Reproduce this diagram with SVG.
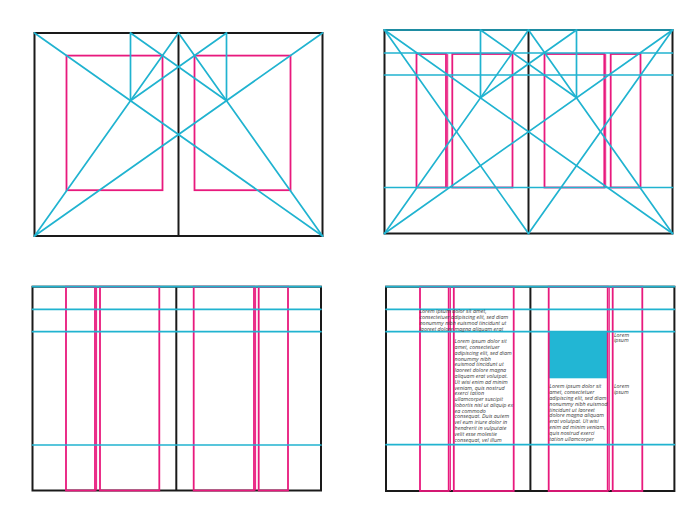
<svg xmlns="http://www.w3.org/2000/svg" width="700" height="524" viewBox="0 0 700 524">
<style>
.bk{fill:none;stroke:#1a1a1a;stroke-width:2}
.cy{fill:none;stroke:#20b3d0;stroke-width:1.7;stroke-linecap:round}
.mg{fill:none;stroke:#e8197d;stroke-width:1.8}
.mt{fill:none;stroke:#e8197d;stroke-width:1}
.t{font-family:"Open Sans","Liberation Sans",sans-serif;font-style:italic;font-size:5.4px;fill:#3a3a3a}
</style>
<rect width="700" height="524" fill="#ffffff"/>

<!-- Panel 1: top-left -->
<g id="panel-top-left">
  <rect class="bk" x="34.5" y="33" width="288" height="203"/>
  <line class="bk" x1="178.5" y1="33" x2="178.5" y2="236"/>
  <rect class="mg" x="66.5" y="55.6" width="96" height="134.6"/>
  <rect class="mg" x="194.5" y="55.6" width="96" height="134.6"/>
  <g id="connectors-tl">
    <line class="cy" x1="34.5" y1="33" x2="322.5" y2="236"/>
    <line class="cy" x1="34.5" y1="236" x2="322.5" y2="33"/>
    <line class="cy" x1="34.5" y1="236" x2="178.5" y2="33"/>
    <line class="cy" x1="322.5" y1="236" x2="178.5" y2="33"/>
    <line class="cy" x1="130.5" y1="33" x2="130.5" y2="100.7"/>
    <line class="cy" x1="226.5" y1="33" x2="226.5" y2="100.7"/>
    <line class="cy" x1="130.5" y1="33" x2="226.5" y2="100.7"/>
    <line class="cy" x1="226.5" y1="33" x2="130.5" y2="100.7"/>
  </g>
</g>

<!-- Panel 2: top-right -->
<g id="panel-top-right">
  <rect class="bk" x="384.5" y="30" width="288" height="203.5"/>
  <line class="bk" x1="528.5" y1="30" x2="528.5" y2="233.5"/>
  <rect class="mg" x="416.5" y="54" width="29.5" height="133.5"/>
  <line class="mt" x1="447.7" y1="54" x2="447.7" y2="187.5"/>
  <rect class="mg" x="452.3" y="54" width="60.2" height="133.5"/>
  <rect class="mg" x="544.5" y="54" width="59.8" height="133.5"/>
  <line class="mt" x1="605.7" y1="54" x2="605.7" y2="187.5"/>
  <rect class="mg" x="610.7" y="54" width="29.8" height="133.5"/>
  <g id="connectors-tr">
    <line class="cy" x1="384.5" y1="30" x2="672.5" y2="30"/>
    <line class="cy" x1="384.5" y1="53" x2="672.5" y2="53"/>
    <line class="cy" x1="384.5" y1="75" x2="672.5" y2="75"/>
    <line class="cy" x1="384.5" y1="187.5" x2="672.5" y2="187.5"/>
    <line class="cy" x1="384.5" y1="30" x2="672.5" y2="233.5"/>
    <line class="cy" x1="384.5" y1="233.5" x2="672.5" y2="30"/>
    <line class="cy" x1="384.5" y1="233.5" x2="528.5" y2="30"/>
    <line class="cy" x1="384.5" y1="30" x2="528.5" y2="233.5"/>
    <line class="cy" x1="672.5" y1="233.5" x2="528.5" y2="30"/>
    <line class="cy" x1="672.5" y1="30" x2="528.5" y2="233.5"/>
    <line class="cy" x1="480.5" y1="30" x2="480.5" y2="97.8"/>
    <line class="cy" x1="576.5" y1="30" x2="576.5" y2="97.8"/>
    <line class="cy" x1="480.5" y1="30" x2="576.5" y2="97.8"/>
    <line class="cy" x1="576.5" y1="30" x2="480.5" y2="97.8"/>
  </g>
</g>

<!-- Panel 3: bottom-left -->
<g id="panel-bottom-left">
  <rect class="bk" x="32.5" y="286.7" width="288.5" height="203.8"/>
  <line class="bk" x1="176.3" y1="286.7" x2="176.3" y2="490.5"/>
  <rect class="mg" x="66" y="286.7" width="29" height="203.8"/>
  <line class="mt" x1="96.6" y1="286.7" x2="96.6" y2="490.5"/>
  <rect class="mg" x="100" y="286.7" width="59.3" height="203.8"/>
  <rect class="mg" x="193.7" y="286.7" width="60.3" height="203.8"/>
  <line class="mt" x1="255.6" y1="286.7" x2="255.6" y2="490.5"/>
  <rect class="mg" x="258.7" y="286.7" width="29.3" height="203.8"/>
  <g id="connectors-bl">
    <line class="cy" x1="32.5" y1="286.7" x2="321" y2="286.7"/>
    <line class="cy" x1="32.5" y1="309.3" x2="321" y2="309.3"/>
    <line class="cy" x1="32.5" y1="331.7" x2="321" y2="331.7"/>
    <line class="cy" x1="32.5" y1="445" x2="321" y2="445"/>
  </g>
</g>

<!-- Panel 4: bottom-right -->
<g id="panel-bottom-right">
  <rect class="bk" x="386" y="286.7" width="288.4" height="204.3"/>
  <line class="bk" x1="530.4" y1="286.7" x2="530.4" y2="491"/>
  <rect x="548.7" y="331.7" width="59" height="46.6" fill="#22b6d4"/>
  <rect class="mg" x="420" y="286.7" width="28.7" height="204.3"/>
  <line class="mt" x1="450.4" y1="286.7" x2="450.4" y2="491"/>
  <rect class="mg" x="453.8" y="286.7" width="59.9" height="204.3"/>
  <rect class="mg" x="548.7" y="286.7" width="59" height="204.3"/>
  <line class="mt" x1="609.3" y1="286.7" x2="609.3" y2="491"/>
  <rect class="mg" x="612.7" y="286.7" width="29.6" height="204.3"/>
  <g id="connectors-br">
    <line class="cy" x1="386" y1="286.7" x2="674.4" y2="286.7"/>
    <line class="cy" x1="386" y1="309.3" x2="674.4" y2="309.3"/>
    <line class="cy" x1="386" y1="331.7" x2="674.4" y2="331.7"/>
    <line class="cy" x1="386" y1="444.7" x2="674.4" y2="444.7"/>
  </g>
  <text class="t" x="419.5" y="312.8">Lorem ipsum dolor sit amet,<tspan x="419.5" dy="6">consectetuer adipiscing elit, sed diam</tspan><tspan x="419.5" dy="6">nonummy nibh euismod tincidunt ut</tspan><tspan x="419.5" dy="6">laoreet dolore magna aliquam erat</tspan></text>
  <text class="t" x="454.6" y="343.3">Lorem ipsum dolor sit<tspan x="454.6" dy="5.78">amet, consectetuer</tspan><tspan x="454.6" dy="5.78">adipiscing elit, sed diam</tspan><tspan x="454.6" dy="5.78">nonummy nibh</tspan><tspan x="454.6" dy="5.78">euismod tincidunt ut</tspan><tspan x="454.6" dy="5.78">laoreet dolore magna</tspan><tspan x="454.6" dy="5.78">aliquam erat volutpat.</tspan><tspan x="454.6" dy="5.78">Ut wisi enim ad minim</tspan><tspan x="454.6" dy="5.78">veniam, quis nostrud</tspan><tspan x="454.6" dy="5.78">exerci tation</tspan><tspan x="454.6" dy="5.78">ullamcorper suscipit</tspan><tspan x="454.6" dy="5.78">lobortis nisl ut aliquip ex</tspan><tspan x="454.6" dy="5.78">ea commodo</tspan><tspan x="454.6" dy="5.78">consequat. Duis autem</tspan><tspan x="454.6" dy="5.78">vel eum iriure dolor in</tspan><tspan x="454.6" dy="5.78">hendrerit in vulputate</tspan><tspan x="454.6" dy="5.78">velit esse molestie</tspan><tspan x="454.6" dy="5.78">consequat, vel illum</tspan></text>
  <text class="t" x="549.3" y="388.3">Lorem ipsum dolor sit<tspan x="549.3" dy="5.8">amet, consectetuer</tspan><tspan x="549.3" dy="5.8">adipiscing elit, sed diam</tspan><tspan x="549.3" dy="5.8">nonummy nibh euismod</tspan><tspan x="549.3" dy="5.8">tincidunt ut laoreet</tspan><tspan x="549.3" dy="5.8">dolore magna aliquam</tspan><tspan x="549.3" dy="5.8">erat volutpat. Ut wisi</tspan><tspan x="549.3" dy="5.8">enim ad minim veniam,</tspan><tspan x="549.3" dy="5.8">quis nostrud exerci</tspan><tspan x="549.3" dy="5.8">tation ullamcorper</tspan></text>
  <text class="t" x="614" y="336.6">Lorem<tspan x="614" dy="5.8">ipsum</tspan></text>
  <text class="t" x="614" y="388.3">Lorem<tspan x="614" dy="5.8">ipsum</tspan></text>
</g>
</svg>
